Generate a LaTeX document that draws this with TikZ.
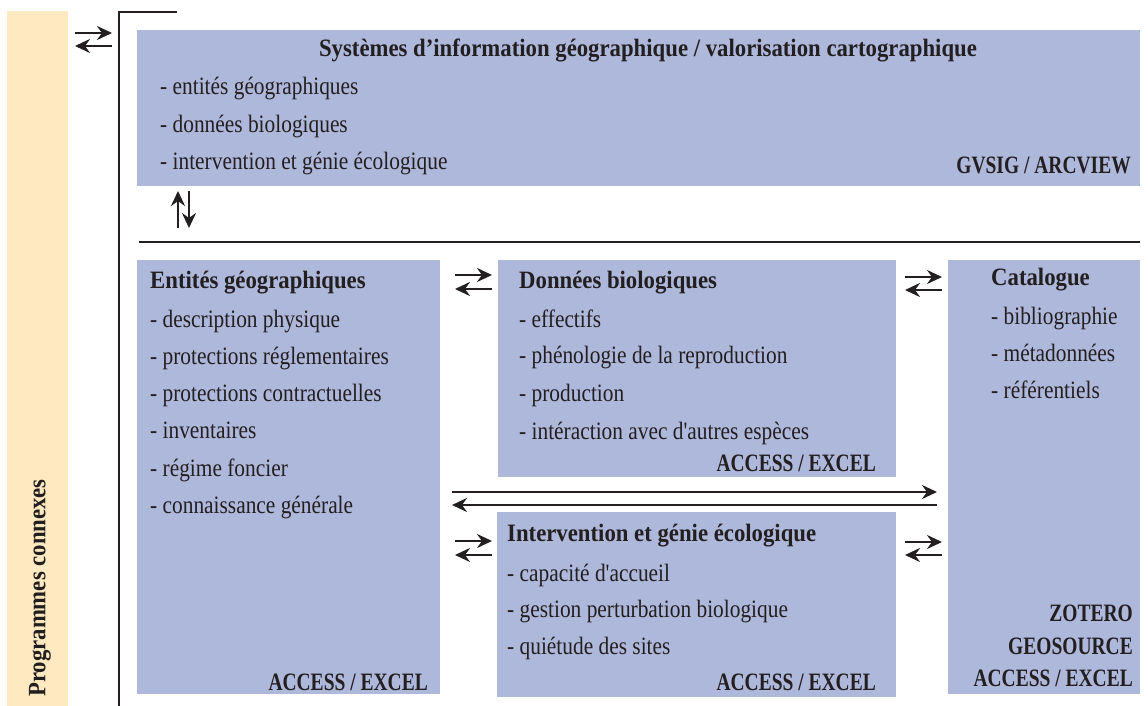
\documentclass[tikz,border=0pt]{standalone}
\usepackage{fontspec}
\setmainfont{Liberation Serif}[FakeStretch=0.91]
\newfontfamily\bodyfont{Liberation Serif}[FakeStretch=0.855]
\newfontfamily\condfont{Liberation Serif}[FakeStretch=0.78]
\usetikzlibrary{arrows.meta,calc}
\definecolor{boxblue}{RGB}{174,184,219}
\definecolor{band}{RGB}{254,233,192}
\definecolor{ink}{RGB}{35,31,32}
\begin{document}
\begin{tikzpicture}[x=1pt,y=-1pt,
  box/.style={fill=boxblue,draw=none,anchor=north west,inner sep=0pt,outer sep=0pt},
  txt/.style={anchor=base west,inner sep=0pt,font=\fontsize{25}{29}\selectfont\bodyfont,text=ink},
  ttl/.style={anchor=base west,inner sep=0pt,font=\fontsize{25}{29}\selectfont\bfseries,text=ink},
  tool/.style={anchor=base east,inner sep=0pt,font=\fontsize{25}{29}\selectfont\condfont\bfseries,text=ink},
  arr/.style={draw=ink,line width=2.8pt,-{Stealth[length=15pt,width=14pt,inset=5pt]}},
  rulel/.style={draw=ink,line width=2.6pt}]
\useasboundingbox (0,0) rectangle (1148,706);
% side band
\node[box,fill=band,minimum width=61pt,minimum height=695pt] (band) at (7,11) {};
\node[rotate=90,inner sep=0pt,font=\fontsize{25}{29}\selectfont\bfseries,text=ink] (bandtxt) at (40,588) {Programmes connexes};
% frame lines
\coordinate (ftop) at (177,12);
\coordinate (fcorner) at (119,12);
\coordinate (fbot) at (119,706);
\draw[rulel] (ftop) -- (fcorner) -- (fbot);
% top box
\node[box,minimum width=1003pt,minimum height=156pt] (sig) at (137,30) {};
\node[ttl,anchor=base] (sigt) at (648,57) {Systèmes d'information géographique / valorisation cartographique};
\node[txt] (sig1) at (160,95) {- entités géographiques};
\node[txt] (sig2) at (160,132) {- données biologiques};
\node[txt] (sig3) at (160,169) {- intervention et génie écologique};
\node[tool] (sigtool) at (1131,173) {GVSIG / ARCVIEW};
% separator
\coordinate (sepl) at (139,242);
\coordinate (sepr) at (1140,242);
\draw[rulel] (sepl) -- (sepr);
% boxes
\node[box,minimum width=303pt,minimum height=434pt] (ent) at (137,260) {};
\node[box,minimum width=398pt,minimum height=217pt] (don) at (498,260) {};
\node[box,minimum width=192pt,minimum height=434pt] (cat) at (948,260) {};
\node[box,minimum width=399pt,minimum height=185pt] (int) at (497,512) {};
% entites
\node[ttl] (entt) at (150,288) {Entités géographiques};
\node[txt] (ent1) at (150,327) {- description physique};
\node[txt] (ent2) at (150,364) {- protections réglementaires};
\node[txt] (ent3) at (150,401) {- protections contractuelles};
\node[txt] (ent4) at (150,438) {- inventaires};
\node[txt] (ent5) at (150,476) {- régime foncier};
\node[txt] (ent6) at (150,513) {- connaissance générale};
\node[tool] (enttool) at (428,690) {ACCESS / EXCEL};
% donnees
\node[ttl] (dont) at (519,288) {Données biologiques};
\node[txt] (don1) at (519,327) {- effectifs};
\node[txt] (don2) at (519,363) {- phénologie de la reproduction};
\node[txt] (don3) at (519,401) {- production};
\node[txt] (don4) at (519,439) {- intéraction avec d'autres espèces};
\node[tool] (dontool) at (876,471) {ACCESS / EXCEL};
% catalogue
\node[ttl] (catt) at (991,285) {Catalogue};
\node[txt] (cat1) at (991,324) {- bibliographie};
\node[txt] (cat2) at (991,361) {- métadonnées};
\node[txt] (cat3) at (991,398) {- référentiels};
\node[tool] (cattool1) at (1133,621) {ZOTERO};
\node[tool] (cattool2) at (1133,654) {GEOSOURCE};
\node[tool] (cattool3) at (1133,686) {ACCESS / EXCEL};
% intervention
\node[ttl] (intt) at (507,541) {Intervention et génie écologique};
\node[txt] (int1) at (507,581) {- capacité d'accueil};
\node[txt] (int2) at (507,617) {- gestion perturbation biologique};
\node[txt] (int3) at (507,654) {- quiétude des sites};
\node[tool] (inttool) at (876,690) {ACCESS / EXCEL};
% arrows: band <-> frame
\draw[arr] ($(band.north east)+(7,22)$) -- ($(fcorner)+(-7,21)$);
\draw[arr] ($(fcorner)+(-7,34)$) -- ($(band.north east)+(7,35)$);
% arrows: sig <-> lower
\draw[arr] ($(sig.south west)+(41,42)$) -- ($(sig.south west)+(41,5)$);
\draw[arr] ($(sig.south west)+(52,5)$) -- ($(sig.south west)+(52,42)$);
% ent <-> don
\draw[arr] ($(ent.north east)+(15,15)$) -- ($(don.north west)+(-6,15)$);
\draw[arr] ($(don.north west)+(-6,29)$) -- ($(ent.north east)+(15,29)$);
% don <-> cat
\draw[arr] ($(don.north east)+(9,17)$) -- ($(cat.north west)+(-6,17)$);
\draw[arr] ($(cat.north west)+(-6,30)$) -- ($(don.north east)+(9,30)$);
% ent <-> cat long
\draw[arr] ($(ent.north east)+(12,232)$) -- ($(cat.north west)+(-11,232)$);
\draw[arr] ($(cat.north west)+(-11,245)$) -- ($(ent.north east)+(12,245)$);
% ent <-> int
\draw[arr] ($(ent.east |- int.north)+(15,29)$) -- ($(int.north west)+(-5,29)$);
\draw[arr] ($(int.north west)+(-5,43)$) -- ($(ent.east |- int.north)+(15,43)$);
% int <-> cat
\draw[arr] ($(int.north east)+(9,30)$) -- ($(cat.west |- int.north)+(-6,30)$);
\draw[arr] ($(cat.west |- int.north)+(-6,43)$) -- ($(int.north east)+(9,43)$);
\end{tikzpicture}
\end{document}
